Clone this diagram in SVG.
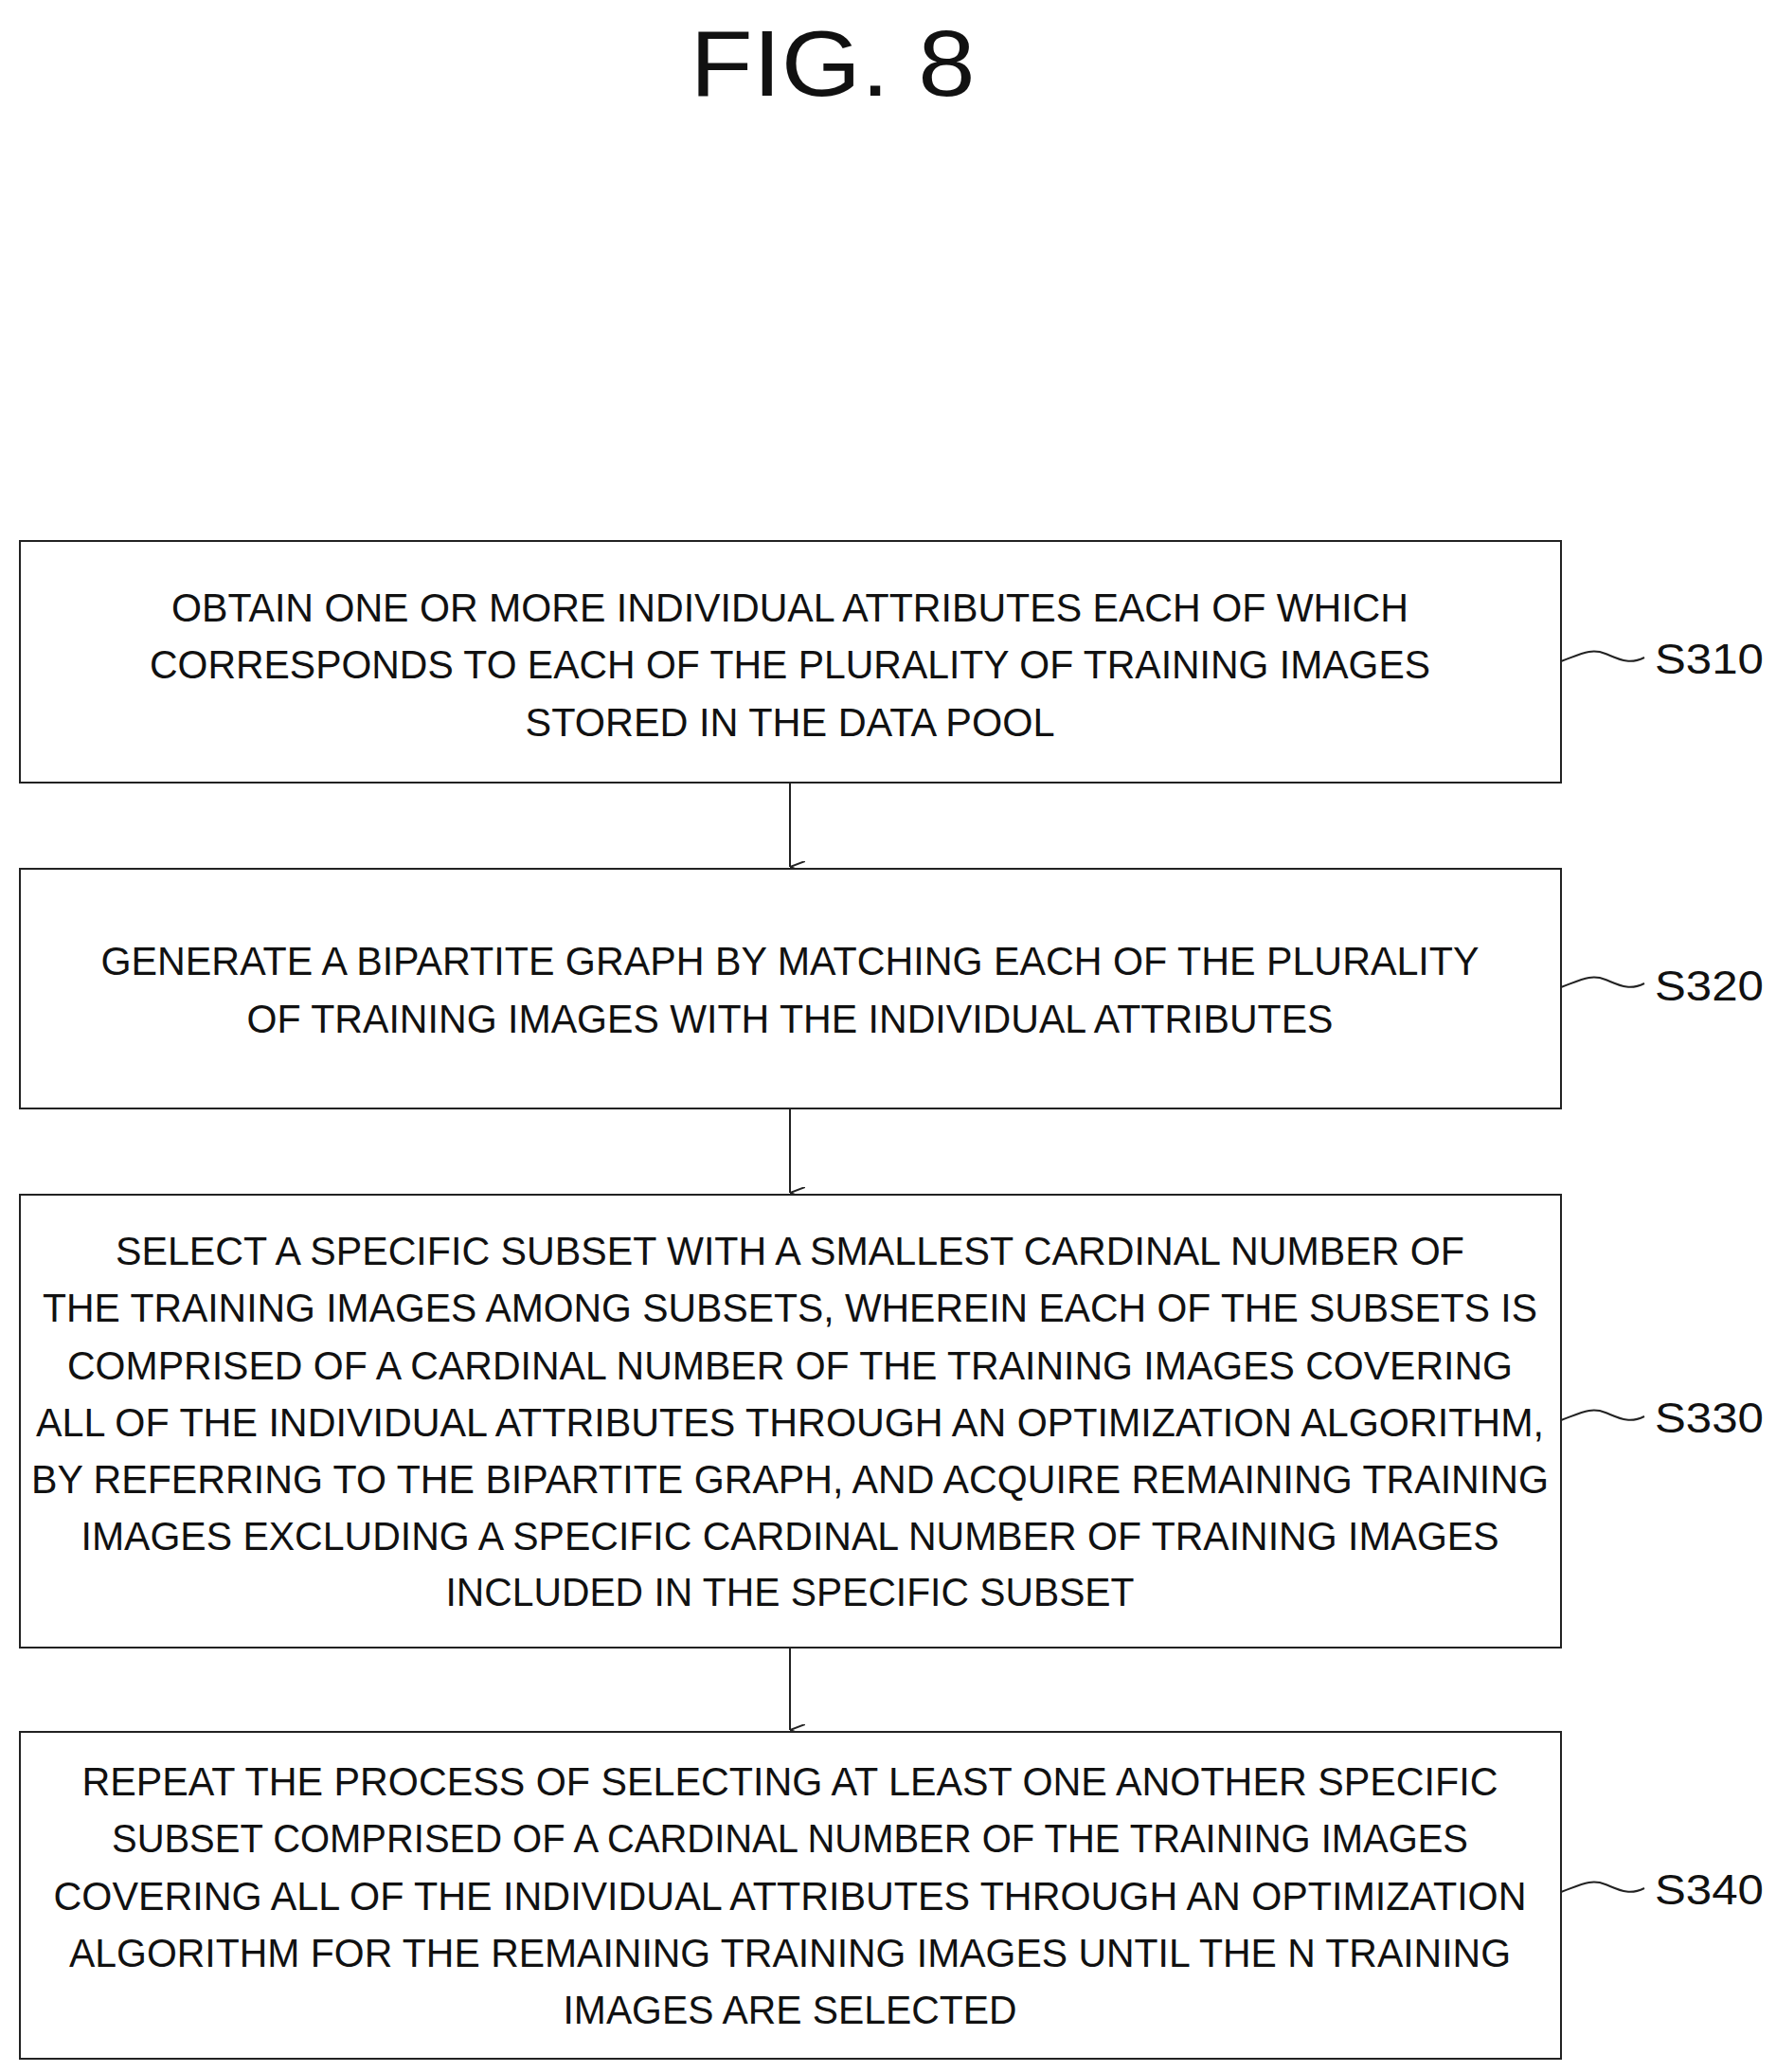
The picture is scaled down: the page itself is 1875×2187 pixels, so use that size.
<svg xmlns="http://www.w3.org/2000/svg" width="1875" height="2187" viewBox="0 0 1875 2187">
<style>
text{font-family:"Liberation Sans",Arial,sans-serif;fill:#111;}
.t{font-size:42px;text-anchor:middle;}
.l{font-size:44px;}
.box{fill:#fff;stroke:#222;stroke-width:2;}
.c{fill:none;stroke:#222;stroke-width:2;}
</style>
<defs><marker id="ah" markerWidth="12" markerHeight="16" refX="6" refY="16" orient="auto-start-reverse" markerUnits="userSpaceOnUse"><path d="M0,0 L6,16 L12,0" fill="none" stroke="#222" stroke-width="2"/></marker></defs>
<rect width="1875" height="2187" fill="#fff"/>
<text x="879" y="101" font-size="98" text-anchor="middle" textLength="301" lengthAdjust="spacingAndGlyphs">FIG. 8</text>
<g id="connectors">
<line class="c" x1="834" y1="826" x2="834" y2="915" marker-end="url(#ah)"/>
<line class="c" x1="834" y1="1170" x2="834" y2="1259" marker-end="url(#ah)"/>
<line class="c" x1="834" y1="1739" x2="834" y2="1826" marker-end="url(#ah)"/>
<path class="c" d="M1648,698 C1670,690 1680,684 1695,690 S1720,702 1736,694"/>
<path class="c" d="M1648,1042 C1670,1034 1680,1028 1695,1034 S1720,1046 1736,1038"/>
<path class="c" d="M1648,1499 C1670,1491 1680,1485 1695,1491 S1720,1503 1736,1495"/>
<path class="c" d="M1648,1997 C1670,1989 1680,1983 1695,1989 S1720,2001 1736,1993"/>
</g>
<g id="s310">
<rect class="box" x="21" y="571" width="1627" height="255"/>
<text class="t" x="834" y="656" textLength="1306" lengthAdjust="spacingAndGlyphs">OBTAIN ONE OR MORE INDIVIDUAL ATTRIBUTES EACH OF WHICH</text>
<text class="t" x="834" y="716" textLength="1352" lengthAdjust="spacingAndGlyphs">CORRESPONDS TO EACH OF THE PLURALITY OF TRAINING IMAGES</text>
<text class="t" x="834" y="777" textLength="559" lengthAdjust="spacingAndGlyphs">STORED IN THE DATA POOL</text>
<text class="l" x="1747" y="711" textLength="115" lengthAdjust="spacingAndGlyphs">S310</text>
</g>
<g id="s320">
<rect class="box" x="21" y="917" width="1627" height="253"/>
<text class="t" x="834" y="1029" textLength="1455" lengthAdjust="spacingAndGlyphs">GENERATE A BIPARTITE GRAPH BY MATCHING EACH OF THE PLURALITY</text>
<text class="t" x="834" y="1090" textLength="1147" lengthAdjust="spacingAndGlyphs">OF TRAINING IMAGES WITH THE INDIVIDUAL ATTRIBUTES</text>
<text class="l" x="1747" y="1056" textLength="115" lengthAdjust="spacingAndGlyphs">S320</text>
</g>
<g id="s330">
<rect class="box" x="21" y="1261" width="1627" height="478"/>
<text class="t" x="834" y="1335" textLength="1424" lengthAdjust="spacingAndGlyphs">SELECT A SPECIFIC SUBSET WITH A SMALLEST CARDINAL NUMBER OF</text>
<text class="t" x="834" y="1395" textLength="1578" lengthAdjust="spacingAndGlyphs">THE TRAINING IMAGES AMONG SUBSETS, WHEREIN EACH OF THE SUBSETS IS</text>
<text class="t" x="834" y="1456" textLength="1526" lengthAdjust="spacingAndGlyphs">COMPRISED OF A CARDINAL NUMBER OF THE TRAINING IMAGES COVERING</text>
<text class="t" x="834" y="1516" textLength="1592" lengthAdjust="spacingAndGlyphs">ALL OF THE INDIVIDUAL ATTRIBUTES THROUGH AN OPTIMIZATION ALGORITHM,</text>
<text class="t" x="834" y="1576" textLength="1602" lengthAdjust="spacingAndGlyphs">BY REFERRING TO THE BIPARTITE GRAPH, AND ACQUIRE REMAINING TRAINING</text>
<text class="t" x="834" y="1636" textLength="1497" lengthAdjust="spacingAndGlyphs">IMAGES EXCLUDING A SPECIFIC CARDINAL NUMBER OF TRAINING IMAGES</text>
<text class="t" x="834" y="1695" textLength="727" lengthAdjust="spacingAndGlyphs">INCLUDED IN THE SPECIFIC SUBSET</text>
<text class="l" x="1747" y="1512" textLength="115" lengthAdjust="spacingAndGlyphs">S330</text>
</g>
<g id="s340">
<rect class="box" x="21" y="1828" width="1627" height="345"/>
<text class="t" x="834" y="1895" textLength="1495" lengthAdjust="spacingAndGlyphs">REPEAT THE PROCESS OF SELECTING AT LEAST ONE ANOTHER SPECIFIC</text>
<text class="t" x="834" y="1955" textLength="1432" lengthAdjust="spacingAndGlyphs">SUBSET COMPRISED OF A CARDINAL NUMBER OF THE TRAINING IMAGES</text>
<text class="t" x="834" y="2016" textLength="1555" lengthAdjust="spacingAndGlyphs">COVERING ALL OF THE INDIVIDUAL ATTRIBUTES THROUGH AN OPTIMIZATION</text>
<text class="t" x="834" y="2076" textLength="1522" lengthAdjust="spacingAndGlyphs">ALGORITHM FOR THE REMAINING TRAINING IMAGES UNTIL THE N TRAINING</text>
<text class="t" x="834" y="2136" textLength="479" lengthAdjust="spacingAndGlyphs">IMAGES ARE SELECTED</text>
<text class="l" x="1747" y="2010" textLength="115" lengthAdjust="spacingAndGlyphs">S340</text>
</g>
</svg>
